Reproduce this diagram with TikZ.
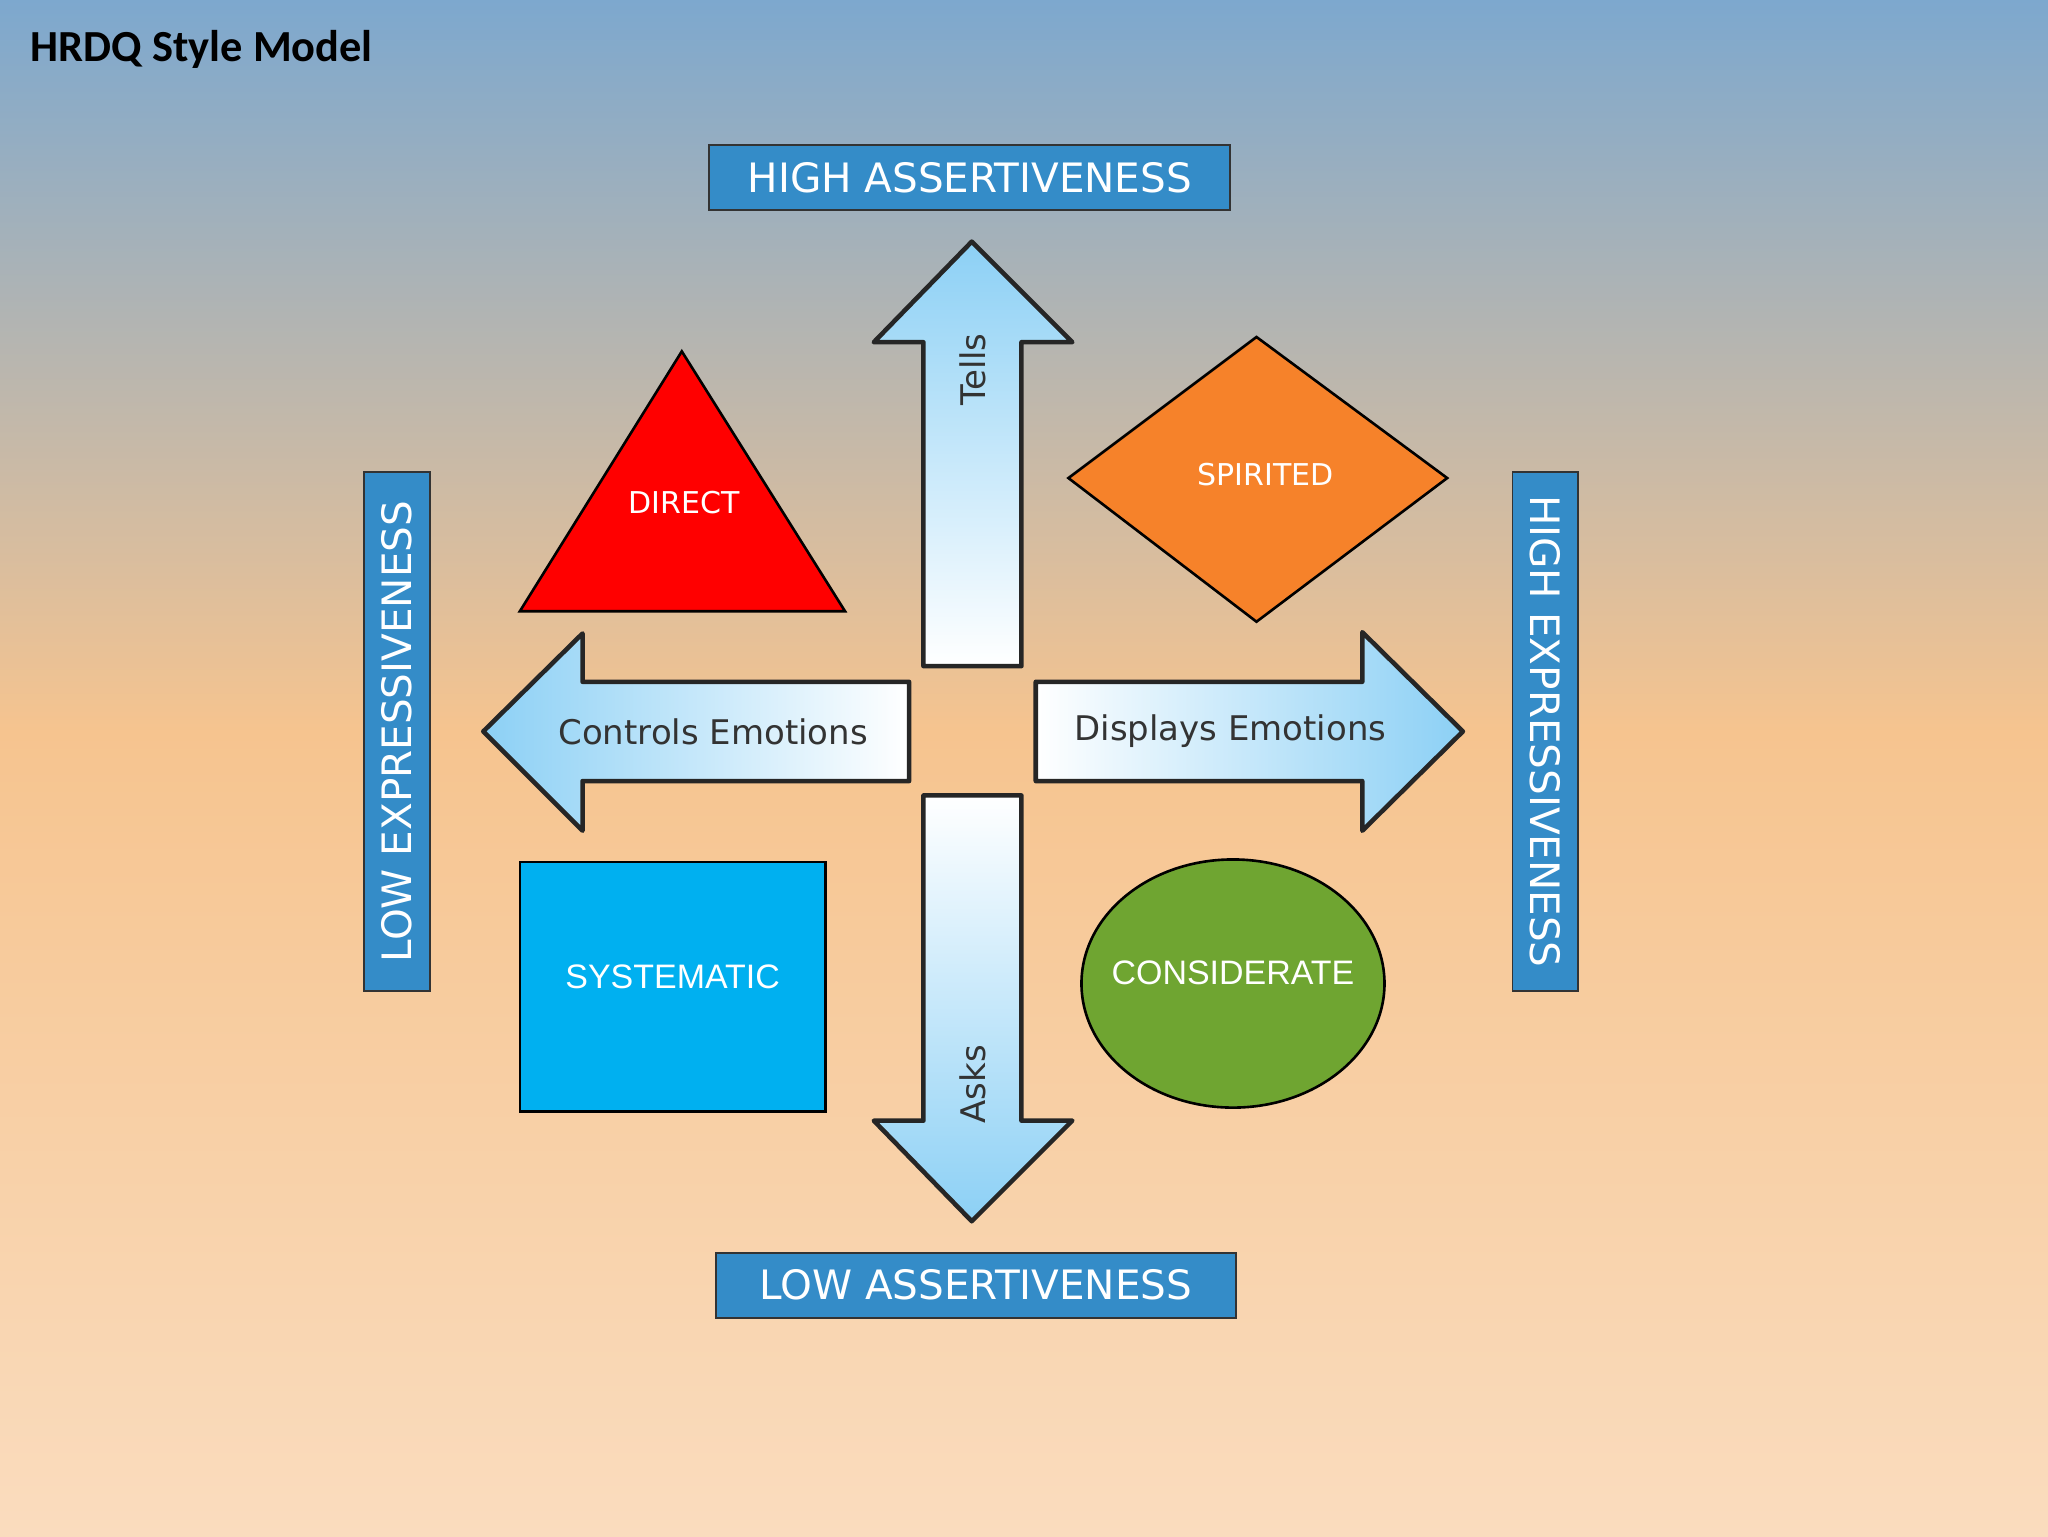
\documentclass[tikz,border=0pt]{standalone}
\usepackage{fontspec}
\setmainfont{DejaVu Sans}
\newfontfamily\titlefont{Carlito}
\newfontfamily\arialfont{Liberation Sans}
\definecolor{bgtop}{RGB}{125,168,206}
\definecolor{bgmid}{RGB}{246,196,143}
\definecolor{bgbot}{RGB}{250,220,190}
\definecolor{arrblue}{RGB}{140,208,245}
\definecolor{lblblue}{RGB}{52,140,200}
\definecolor{spirit}{RGB}{246,130,42}
\definecolor{syst}{RGB}{0,176,240}
\definecolor{consid}{RGB}{111,165,49}
\tikzset{
  blockarrow/.style={draw=black!85,line width=3.5pt,line join=round},
  lbl/.style={draw=black!80,line width=1.5pt,fill=lblblue,text=white,
    font=\fontsize{31}{36}\selectfont,inner sep=0pt},
  shapetext/.style={text=white,font=\fontsize{23}{28}\selectfont},
}
\begin{document}
\begin{tikzpicture}[x=1pt,y=1pt,yscale=-1]
\useasboundingbox (0,0) rectangle (1568,1176);
% background
\shade[top color=bgtop,bottom color=bgmid] (0,0) rectangle (1568,561);
\shade[top color=bgmid,bottom color=bgbot] (0,560) rectangle (1568,1176);

% Text Node
\node[anchor=west,font=\titlefont\bfseries\fontsize{34}{40}\selectfont] (title) at (20,38) {HRDQ Style Model};

% Arrows
\shade[blockarrow,top color=arrblue,bottom color=white]
  (744,185) -- (821,262) -- (782,262) -- (782,510) -- (707,510) -- (707,262) -- (669,262) -- cycle;
\shade[blockarrow,top color=white,bottom color=arrblue]
  (707,609) -- (782,609) -- (782,858) -- (821,858) -- (744,935) -- (669,858) -- (707,858) -- cycle;
\shade[blockarrow,left color=arrblue,right color=white]
  (370,560) -- (446,485) -- (446,522) -- (696,522) -- (696,598) -- (446,598) -- (446,636) -- cycle;
\shade[blockarrow,left color=white,right color=arrblue]
  (793,522) -- (1043,522) -- (1043,484) -- (1120,560) -- (1043,636) -- (1043,598) -- (793,598) -- cycle;

% Arrow labels
\node[rotate=90,font=\fontsize{26}{30}\selectfont,text=black!80] (tells) at (745,283) {Tells};
\node[rotate=90,font=\fontsize{26}{30}\selectfont,text=black!80] (asks) at (745,830) {Asks};
\node[font=\fontsize{26}{30}\selectfont,text=black!80] (controls) at (546,560) {Controls Emotions};
\node[font=\fontsize{26}{30}\selectfont,text=black!80] (displays) at (942,560) {Displays Emotions};

% Style shapes
\draw[line width=2pt,fill=red] (522,269) -- (647,468) -- (398,468) -- cycle;
\node[shapetext] (direct) at (524,385) {DIRECT};
\draw[line width=2pt,fill=spirit] (962,258) -- (1108,366) -- (962,476) -- (818,366) -- cycle;
\node[shapetext] (spirited) at (969,363) {SPIRITED};
\draw[line width=2pt,fill=syst] (398,660) rectangle (632,851);
\node[shapetext,font=\arialfont\fontsize{26}{30}\selectfont] (systematic) at (515,748) {SYSTEMATIC};
\draw[line width=2pt,fill=consid] (944,753) ellipse [x radius=116,y radius=95];
\node[shapetext,font=\arialfont\fontsize{26}{30}\selectfont] (considerate) at (944,745) {CONSIDERATE};

% Axis labels
\node[lbl,minimum width=399,minimum height=50] (highA) at (742.5,136) {HIGH ASSERTIVENESS};
\node[lbl,minimum width=398,minimum height=50] (lowA) at (747,984) {LOW ASSERTIVENESS};
\node[lbl,rotate=90,minimum width=398,minimum height=50] (lowE) at (304,560) {LOW EXPRESSIVENESS};
\node[lbl,rotate=-90,minimum width=398,minimum height=50] (highE) at (1183,560) {HIGH EXPRESSIVENESS};
\end{tikzpicture}
\end{document}
